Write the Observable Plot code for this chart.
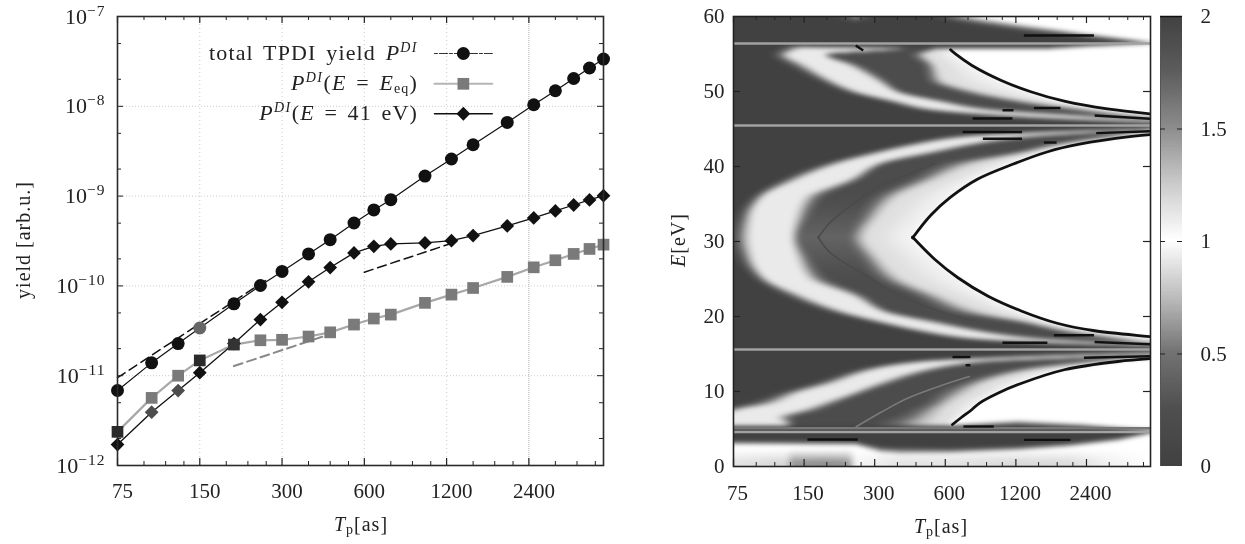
<!DOCTYPE html>
<html><head><meta charset="utf-8">
<script src="https://cdn.jsdelivr.net/npm/d3@7"></script>
<script src="https://cdn.jsdelivr.net/npm/@observablehq/plot@0.6"></script>
<style>
html,body{margin:0;padding:0;background:#fff}
#page{position:relative;width:1245px;height:544px;overflow:hidden;font-family:"Liberation Serif",serif;color:#222;filter:blur(0.45px)}
#page>svg,#page>.p{position:absolute;top:0}
.lab{position:absolute;white-space:nowrap;line-height:1;font-size:20px}
.lab i{font-style:italic}
.lab sup{font-size:14px;line-height:0;vertical-align:8px;font-style:italic;letter-spacing:1.5px}
.lab sub{font-size:14px;line-height:0;vertical-align:-3px}
.leg{font-size:22px;letter-spacing:1.15px;word-spacing:3px}
.ax{letter-spacing:1px}
</style></head><body>
<div id="page"></div>
<script>
// ---------- left panel data ----------
const pulseT=[75,100,125,150,200,250,300,375,450,550,650,750,1000,1250,1500,2000,2500,3000,3500,4000,4500];
const totalYield=[6.84e-12,1.39e-11,2.28e-11,3.40e-11,6.31e-11,1.01e-10,1.45e-10,2.27e-10,3.27e-10,5.02e-10,7.01e-10,9.12e-10,1.67e-9,2.59e-9,3.73e-9,6.61e-9,1.04e-8,1.49e-8,2.04e-8,2.67e-8,3.36e-8];
const eqYield=[2.37e-12,5.66e-12,1.00e-11,1.48e-11,2.22e-11,2.48e-11,2.51e-11,2.73e-11,3.04e-11,3.71e-11,4.33e-11,4.79e-11,6.47e-11,8.0e-11,9.48e-11,1.26e-10,1.61e-10,1.93e-10,2.27e-10,2.58e-10,2.88e-10];
const e41Yield=[1.71e-12,3.92e-12,6.84e-12,1.08e-11,2.28e-11,4.22e-11,6.56e-11,1.11e-10,1.60e-10,2.33e-10,2.76e-10,2.93e-10,3.01e-10,3.19e-10,3.63e-10,4.65e-10,5.71e-10,6.83e-10,7.96e-10,9.05e-10,1.01e-9];
const dashBlack1T=[75,270], dashBlack1Y=[9.5e-12,1.23e-10];
const dashBlack2T=[600,1300], dashBlack2Y=[1.42e-10,3.1e-10];
const dashGrayT=[200,450], dashGrayY=[1.28e-11,2.9e-11];
const legendT=[1083,1382,1764];
const legendY=[3.87e-8,1.78e-8,8.26e-9];
const octaveTicks=[75,150,300,600,1200,2400];
const minorTicks=[93.75,112.5,131.25,187.5,225,262.5,375,450,525,750,900,1050,1500,1800,2100,3000,3600,4200];
const decadeTicks=[1e-12,1e-11,1e-10,1e-9,1e-8,1e-7];
const decadeMinor=[2e-12,5e-12,2e-11,5e-11,2e-10,5e-10,2e-9,5e-9,2e-8,5e-8];
const decadeLabel={1e-12:"10−12",1e-11:"10−11",1e-10:"10−10",1e-9:"10−9",1e-8:"10−8",1e-7:"10−7"};

// ---------- right panel data ----------
// each row: pulse lengths at which a lobe profile reaches the levels in stopLevel, at distance delta from the line
const stopLevel=[0,.92,.92,.2,.2,.88,.95];
const lineUpper=56.4, lineMidHi=45.47, lineMidLo=15.6, lineLower=4.7, lineCentre=30.5;
const farRow=[9000,10000,11000,12000,13000,14000,15000];
const centralDelta=[0,.5,.9,1.5,2.5,3.5,5.14,7.14,9.6,12,15];
const centralStops=[farRow,
 [2750,4500,5500,6500,7500,8500,9500],
 [1138,1859,2494,3345,3870,4270,6000],
 [572,807,1138,1685,2494,3345,3670],
 [376,494,711,891,1528,2050,2240],
 [269,351,485,632,1138,1440,1640],
 [165,221,288,351,504,876,1170],
 [111,152,221,282,386,600,826],
 [83,105,141,194,269,399,630],
 [72,95,131,168,242,334,519],
 [67,93,127,149,221,288,435]];
const centralLowerEdge=[15000,9500,7000,5200,2600,1800,1265,910,677,542,435];
const centralInnerDelta=[0,9,15], centralInner=[.18,.2,.4];
const upperDelta=[0,.5,1.2,2.2,3.2,4.5,6,8,9.5,10.3,11];
const upperStops=[farRow,
 [2750,4500,5500,6500,7500,8500,9500],
 [848,1528,2260,2885,3510,4070,5900],
 [414,556,768,1032,1685,2494,2950],
 [309,399,536,651,1032,1432,1950],
 [208,269,351,414,632,876,1390],
 [160,208,288,361,470,613,1040],
 [119,163,221,279,457,572,780],
 [101,135,176,200,399,519,665],
 [108,152,368,448,494,572,620],
 [108,152,368,448,494,560,590]];
const lowerDelta=[0,.5,1,1.6,2.7,4.5,5.8,7.14,8,9.1,10,11];
const lowerStops=[farRow,
 [2494,4500,5500,6500,7500,8500,9500],
 [891,1384,2260,3033,3870,4400,5800],
 [376,545,768,1032,2050,3033,3270],
 [230,318,448,600,1032,1528,1930],
 [149,214,288,386,632,935,1270],
 [105,152,226,288,494,807,1010],
 [76.5,125,168,226,448,676,840],
 [63,85,138,194,386,632,780],
 [54,69,108,145,318,600,700],
 [49,60,119,145,261,572,644],
 [49,60,119,145,261,560,620]];
// dark bands round the outer lines
const topBandT=[75,145,249,399,632,876,1298,1859,2341,3270,4500];
const topDark=[62,60.5,59.2,60.3,59.3,58.6,57.9,57.5,57.2,56.8,56.45];
const topWhite=[66,63,60.3,63,60.5,59.8,59,58.3,57.8,57.2,56.6];
const underTopT=[75,632,1638,2341,3270,4500];
const underTop=[55.9,55.6,55.6,55.9,56.1,56.35];
const overLowT=[75,632,1216,2341,4500];
const overLowDark=[5.3,5.3,5.35,5.1,4.7];
const overLowWhite=[5.5,5.5,6.2,5.7,4.9];
const belowLowT=[75,249,318,386,632,1216,2000,3270,4500];
const belowLowDark=[3.5,3.4,2.8,2.7,2.55,2.8,3.2,3.9,4.6];
const belowLowWhite=[2.9,2.8,1.8,1.6,1.7,2.1,2.6,3.4,4.4];
const floorT=[75,125,135,185,230,250,400,632,1216,2000,3000,4500];
const floorLevel=[.9,.85,.62,.6,.62,.97,.9,.9,.86,.87,.95,1];
// lines drawn over the map
const centralEdgeDelta=[15,12,9.6,7.14,5.14,3.5,2.5,1.5,.9];
const thinUpDelta=[15,12.9,10,8,6.26,5.1], thinUpT=[172,194,254,318,440,540];
const thinDownDelta=[15,12.9,9.5,7.3,5.5,4.63,3.6], thinDownT=[172,194,288,376,519,632,850];
const thinLowDelta=[10.3,8.4,6.5,4.7,3.6], thinLowT=[250,318,414,590,760];
const lineE=[56.4,45.47,15.6,5.1,4.6];
const markT1=[1298,1052,1432,785,711,868,1580,2640,1743,1052,644,2341,732,1298,717,155,249,2600,2600];
const markT2=[2583,1172,1859,1160,1275,1275,1790,4500,2583,1635,768,4500,768,2050,966,254,268,4500,4500];
const markE1=[57.47,47.5,47.8,46.4,44.6,43.7,43.2,44.45,17.5,16.5,14.6,14.5,13.5,3.55,5.33,3.6,56.13,46.8,16.6];
const markE2=[57.47,47.5,47.8,46.4,44.6,43.7,43.2,44.7,17.5,16.5,14.6,14.7,13.5,3.55,5.33,3.6,55.47,46.36,16.3];
const eTicks=[0,10,20,30,40,50,60];
const barTicks=[0,.5,1,1.5,2];
const grayDomain=[0,.25,.5,.75,1,1.25,1.5,1.75,2];
const grayRange=["#414141","#4f4f4f","#727272","#bdbdbd","#ffffff","#cbcbcb","#8c8c8c","#5c5c5c","#414141"];

const page=document.getElementById("page");
const font="Liberation Serif";
const Tdomain=[75,4500];

function frameTicks(panelW,panelH){
  const T=(vals,len,o)=>Plot.tickX(vals,{x:d=>d,stroke:"#222",strokeWidth:o,insetTop:panelH-len});
  const U=(vals,len,o)=>Plot.tickX(vals,{x:d=>d,stroke:"#222",strokeWidth:o,insetBottom:panelH-len});
  return [T(octaveTicks,7,1.2),U(octaveTicks,7,1.2),T(minorTicks,4,1),U(minorTicks,4,1)];
}
const xLabels=(dy,dx)=>Plot.text(octaveTicks,{x:d=>d,text:d=>String(d),frameAnchor:"bottom",lineAnchor:"middle",dy,dx,fontFamily:font,fontSize:21,fill:"#222"});

// ---------- left plot ----------
const W1=486,H1=449;
const leftPlot=Plot.plot({
  width:620,height:544,marginLeft:117,marginRight:17,marginTop:16,marginBottom:79,
  style:{fontFamily:font,fontSize:"21px",background:"transparent",color:"#222"},
  x:{type:"log",domain:Tdomain,axis:null},
  y:{type:"log",domain:[1e-12,1e-7]},
  marks:[
    Plot.ruleX(octaveTicks.slice(1,-1),{x:d=>d,stroke:"#c9c9c9",strokeWidth:1,strokeDasharray:"1 3"}),
    Plot.ruleX([2400],{x:d=>d,stroke:"#aaa",strokeWidth:1,strokeDasharray:"1 1"}),
    Plot.ruleY(decadeTicks.slice(1,-1),{y:d=>d,stroke:"#ccc",strokeWidth:1,strokeDasharray:"1 2"}),
    Plot.line(pulseT,{x:d=>d,y:(d,i)=>eqYield[i],stroke:"#a8a8a8",strokeWidth:2.2}),
    Plot.line(dashGrayT,{x:d=>d,y:(d,i)=>dashGrayY[i],stroke:"#888",strokeWidth:2,strokeDasharray:"9 5"}),
    Plot.line(dashBlack1T,{x:d=>d,y:(d,i)=>dashBlack1Y[i],stroke:"#111",strokeWidth:1.5,strokeDasharray:"9 5"}),
    Plot.line(dashBlack2T,{x:d=>d,y:(d,i)=>dashBlack2Y[i],stroke:"#111",strokeWidth:1.5,strokeDasharray:"9 5"}),
    Plot.line(pulseT,{x:d=>d,y:(d,i)=>totalYield[i],stroke:"#111",strokeWidth:1.2}),
    Plot.line(pulseT,{x:d=>d,y:(d,i)=>e41Yield[i],stroke:"#111",strokeWidth:1.3}),
    Plot.dot(pulseT,{x:d=>d,y:(d,i)=>e41Yield[i],symbol:"diamond2",r:6.2,fill:(d,i)=>(i==1||i==2)?"#4d4d4d":"#111",stroke:"none"}),
    Plot.dot(pulseT,{x:d=>d,y:(d,i)=>eqYield[i],symbol:"square",r:6.6,fill:(d,i)=>(i==0||i==3)?"#2a2a2a":(i==4?"#333":"#7a7a7a"),stroke:"none"}),
    Plot.dot(pulseT,{x:d=>d,y:(d,i)=>totalYield[i],r:6.5,fill:(d,i)=>i==3?"#666":"#111",stroke:"none"}),
    // legend samples
    Plot.line(legendT,{x:d=>d,y:()=>legendY[0],stroke:"#333",strokeWidth:1.2,strokeDasharray:"3 2 8 2"}),
    Plot.line(legendT,{x:d=>d,y:()=>legendY[1],stroke:"#b5b5b5",strokeWidth:2}),
    Plot.line(legendT,{x:d=>d,y:()=>legendY[2],stroke:"#111",strokeWidth:1.3}),
    Plot.dot([legendT[1]],{x:d=>d,y:()=>legendY[0],r:6.5,fill:"#111",stroke:"none"}),
    Plot.dot([legendT[1]],{x:d=>d,y:()=>legendY[1],symbol:"square",r:6.6,fill:"#7a7a7a",stroke:"none"}),
    Plot.dot([legendT[1]],{x:d=>d,y:()=>legendY[2],symbol:"diamond2",r:6.2,fill:"#111",stroke:"none"}),
    ...frameTicks(W1,H1),
    Plot.tickY(decadeTicks,{y:d=>d,stroke:"#222",insetRight:W1-6}),
    Plot.tickY(decadeTicks,{y:d=>d,stroke:"#222",insetLeft:W1-6}),
    Plot.tickY(decadeMinor,{y:d=>d,stroke:"#222",insetRight:W1-4}),
    Plot.tickY(decadeMinor,{y:d=>d,stroke:"#222",insetLeft:W1-4}),
    xLabels(26,5),
    Plot.axisY({ticks:decadeTicks,tickFormat:d=>decadeLabel[d],tickSize:0,tickPadding:12,label:null,fontFamily:font,fontSize:22,fill:"#222"}),
    Plot.frame({stroke:"#2a2a2a",strokeWidth:1.6})
  ]
});
leftPlot.style.left="0px";
page.appendChild(leftPlot);
leftPlot.querySelectorAll("text").forEach(t=>{
  const m=/^10(−\d+)$/.exec(t.textContent.trim());
  if(m){ const target=t.querySelector("tspan")||t;
    target.textContent="10";
    const s=document.createElementNS("http://www.w3.org/2000/svg","tspan");
    s.setAttribute("dy","-8"); s.setAttribute("font-size","15.5"); s.setAttribute("letter-spacing","1"); s.textContent=m[1];
    t.appendChild(s);
  }
});

// ---------- right map ----------
const lerp=(a,b,t)=>a+(b-a)*t;
const clamp01=t=>t<0?0:t>1?1:t;
const smooth=t=>t*t*(3-2*t);
const along=(xs,ys)=>d3.scaleLog().domain(xs).range(ys).clamp(true);
function hermite(xs,ys,x,flatEnd){
  const n=xs.length; let i=d3.bisectRight(xs,x)-1;
  if(i<0)i=0; if(i>n-2)i=n-2;
  const sec=j=>(ys[j+1]-ys[j])/(xs[j+1]-xs[j]);
  const tan=j=>{
    if(j==0)return sec(0);
    if(j==n-1)return flatEnd?0:sec(n-2);
    const a=sec(j-1),b=sec(j);
    return a*b<=0?0:2*a*b/(a+b);
  };
  const h=xs[i+1]-xs[i],t=clamp01((x-xs[i])/h),t2=t*t,t3=t2*t;
  return (2*t3-3*t2+1)*ys[i]+(t3-2*t2+t)*h*tan(i)+(-2*t3+3*t2)*ys[i+1]+(t3-t2)*h*tan(i+1);
}
function stopsAt(deltas,rows,delta,flatEnd){
  const out=[];
  for(let k=0;k<7;k++) out.push(Math.exp(hermite(deltas,rows.map(r=>Math.log(r[k])),delta,flatEnd)));
  return out;
}
function levelAt(stops,T,inner){
  if(T>=stops[6])return 1;
  if(T<=stops[0])return stopLevel[0];
  let k=d3.bisectRight(stops,T)-1; if(k>5)k=5;
  const f=smooth(clamp01((Math.log(T)-Math.log(stops[k]))/(Math.log(stops[k+1])-Math.log(stops[k]))));
  const lv=j=>(j==3||j==4)?inner:stopLevel[j];
  return lerp(lv(k),lv(k+1),f);
}
const centralLowerStops=centralStops.map((r,i)=>[...r.slice(0,6).map(s=>s*(1+.07*(15-centralDelta[i])/15)),centralLowerEdge[i]]);
const sInner=d3.scaleLinear().domain(centralInnerDelta).range(centralInner);
const sTopDark=along(topBandT,topDark),sTopWhite=along(topBandT,topWhite),sUnder=along(underTopT,underTop),
  sOverD=along(overLowT,overLowDark),sOverW=along(overLowT,overLowWhite),sBelowD=along(belowLowT,belowLowDark),sBelowW=along(belowLowT,belowLowWhite),sFloor=along(floorT,floorLevel);
const nx=417,ny=450,samples=[];
const colT=d3.range(nx).map(i=>75*Math.pow(4500/75,(i+.5)/nx));
for(let j=0;j<ny;j++){
  const E=60*(j+.5)/ny;
  let table=null,delta=0,inner=.2;
  if(E>=lineUpper){}
  else if(E>=lineMidHi){delta=E-lineMidHi;table=stopsAt(upperDelta,upperStops,delta,false);}
  else if(E>=lineCentre){delta=lineMidHi-E;table=stopsAt(centralDelta,centralStops,delta,true);inner=sInner(delta);}
  else if(E>=lineMidLo){delta=E-lineMidLo;table=stopsAt(centralDelta,centralLowerStops,delta,true);inner=sInner(delta);}
  else if(E>=lineLower){delta=lineMidLo-E;table=stopsAt(lowerDelta,lowerStops,delta,false);}
  for(let i=0;i<nx;i++){
    const T=colT[i];let v;
    if(E>=lineUpper){ const d=sTopDark(T),w=sTopWhite(T); v=clamp01((E-d)/(w-d)); }
    else if(E<lineLower){
      const d=sBelowD(T),w=sBelowW(T);
      v=clamp01((d-E)/(d-w));
      if(v>0){ const f=sFloor(T),h=clamp01((E-.6)/1.7); v*=lerp(f,1,h); }
    } else {
      v=levelAt(table,T,inner);
      if(E>lineMidHi){ const u=sUnder(T); const m=clamp01((E-u)/.35); v=lerp(v,0,m); }
      if(E<lineMidLo){ const d=sOverD(T),w=sOverW(T); const m=clamp01((E-d)/(w-d)); v=lerp(0,v,m); }
    }
    samples.push({T,E,v});
  }
}
const grayScale={type:"linear",domain:grayDomain,range:grayRange};
const W2=417,H2=450;
const upEdge=centralEdgeDelta.map(d=>[d,centralStops[centralDelta.indexOf(d)][6]]);
const lowEdge=centralEdgeDelta.map(d=>[d,centralLowerEdge[centralDelta.indexOf(d)]]);
const ulEdge=upperDelta.slice(2,9).map((d,i)=>[d,upperStops[i+2][6]]).concat([[10.1,632]]);
const loEdge=lowerDelta.slice(2,11).map((d,i)=>[d,lowerStops[i+2][6]]);
const rightPlot=Plot.plot({
  width:512,height:544,marginLeft:733-660,marginRight:512-490,marginTop:16,marginBottom:78,
  style:{fontFamily:font,fontSize:"21px",background:"transparent",color:"#222"},
  x:{type:"log",domain:Tdomain,axis:null},
  y:{domain:[0,60]},
  color:grayScale,
  marks:[
    Plot.raster(samples,{x:"T",y:"E",fill:"v",x1:75,x2:4500,y1:0,y2:60,width:nx,height:ny,blur:1.5}),
    Plot.ruleY(lineE,{y:d=>d,stroke:(d,i)=>i==3?"#777":"#a2a2a2",strokeWidth:2.6}),
    Plot.line(thinUpDelta,{x:(d,i)=>thinUpT[i],y:d=>lineMidHi-d,stroke:"#4a4a4a",strokeWidth:1.5,curve:"catmull-rom",clip:true}),
    Plot.line(thinDownDelta,{x:(d,i)=>thinDownT[i],y:d=>lineMidLo+d,stroke:"#4a4a4a",strokeWidth:1.5,curve:"catmull-rom",clip:true}),
    Plot.line(thinLowDelta,{x:(d,i)=>thinLowT[i],y:d=>lineMidLo-d,stroke:"#7a7a7a",strokeWidth:1.5,curve:"catmull-rom",clip:true}),
    Plot.line(upEdge,{x:d=>d[1],y:d=>lineMidHi-d[0],stroke:"#111",strokeWidth:2.8,curve:"catmull-rom",clip:true}),
    Plot.line(lowEdge,{x:d=>d[1],y:d=>lineMidLo+d[0],stroke:"#111",strokeWidth:2.8,curve:"catmull-rom",clip:true}),
    Plot.line(ulEdge,{x:d=>d[1],y:d=>lineMidHi+d[0],stroke:"#111",strokeWidth:2.8,curve:"catmull-rom",clip:true}),
    Plot.line(loEdge,{x:d=>d[1],y:d=>lineMidLo-d[0],stroke:"#111",strokeWidth:2.8,curve:"catmull-rom",clip:true}),
    Plot.link(markT1,{x1:d=>d,x2:(d,i)=>markT2[i],y1:(d,i)=>markE1[i],y2:(d,i)=>markE2[i],stroke:"#111",strokeWidth:2.4,clip:true}),
    ...frameTicks(W2,H2),
    Plot.tickY(eTicks.slice(1,-1),{y:d=>d,stroke:"#222",strokeWidth:1.2,insetLeft:W2-7}),
    Plot.tickY(eTicks.slice(1,-1),{y:d=>d,stroke:"#222",strokeWidth:1.2,insetRight:W2-7}),
    xLabels(27,4),
    Plot.axisY({ticks:eTicks,tickSize:0,tickPadding:9,label:null,fontFamily:font,fontSize:21,fill:"#222"}),
    Plot.frame({stroke:"#222",strokeWidth:1.6})
  ]
});
rightPlot.style.left="660px";
page.appendChild(rightPlot);

// ---------- colour bar ----------
const barLevels=d3.range(0,2,.01);
const barPlot=Plot.plot({
  width:90,height:544,marginLeft:5,marginRight:63,marginTop:16,marginBottom:78,
  style:{fontFamily:font,fontSize:"21px",background:"transparent",color:"#222"},
  x:{domain:[0,1],axis:null},
  y:{domain:[0,2]},
  color:grayScale,
  marks:[
    Plot.rect(barLevels,{x1:0,x2:1,y1:d=>d,y2:d=>Math.min(2,d+.03),fill:d=>d,shapeRendering:"crispEdges"}),
    Plot.ruleX([0],{stroke:"#555",strokeWidth:1}),
    Plot.ruleY([2],{stroke:"#111",strokeWidth:1.5}),
    Plot.tickY(barTicks.slice(1,-1),{y:d=>d,stroke:"#222",insetRight:17}),
    Plot.tickY(barTicks.slice(1,-1),{y:d=>d,stroke:"#222",insetLeft:17}),
    Plot.axisY({anchor:"right",ticks:barTicks,tickFormat:d=>String(d),tickSize:0,tickPadding:18,label:null,fontFamily:font,fontSize:21,fill:"#222"})
  ]
});
barPlot.style.left="1155px";
page.appendChild(barPlot);

// ---------- text set above the plots ----------
function label(html,x,y,anchor,rot,cls){
  const d=document.createElement("div");d.className="lab "+(cls||"");d.innerHTML=html;
  d.style.left=x+"px";d.style.top=y+"px";
  const ax=anchor=="end"?"-100%":"-50%";
  d.style.transform=`translate(${ax},-50%)`+(rot?` rotate(${rot}deg)`:"");
  page.appendChild(d);return d;
}
label("yield [arb.u.]",23,240,"middle",-90,"ax");
label("<i>T</i><sub>p</sub>[as]",361,524,"middle",0,"ax");
label("<i>E</i>[eV]",678,240,"middle",-90,"ax");
label("<i>T</i><sub>p</sub>[as]",941,526,"middle",0,"ax");
label("total TPDI yield <i>P</i><sup>DI</sup>",418,53,"end",0,"leg");
label("<i>P</i><sup>DI</sup>(<i>E</i> = <i>E</i><sub>eq</sub>)",418,83,"end",0,"leg");
label("<i>P</i><sup>DI</sup>(<i>E</i> = 41 eV)",418,113,"end",0,"leg");
</script></body></html>
